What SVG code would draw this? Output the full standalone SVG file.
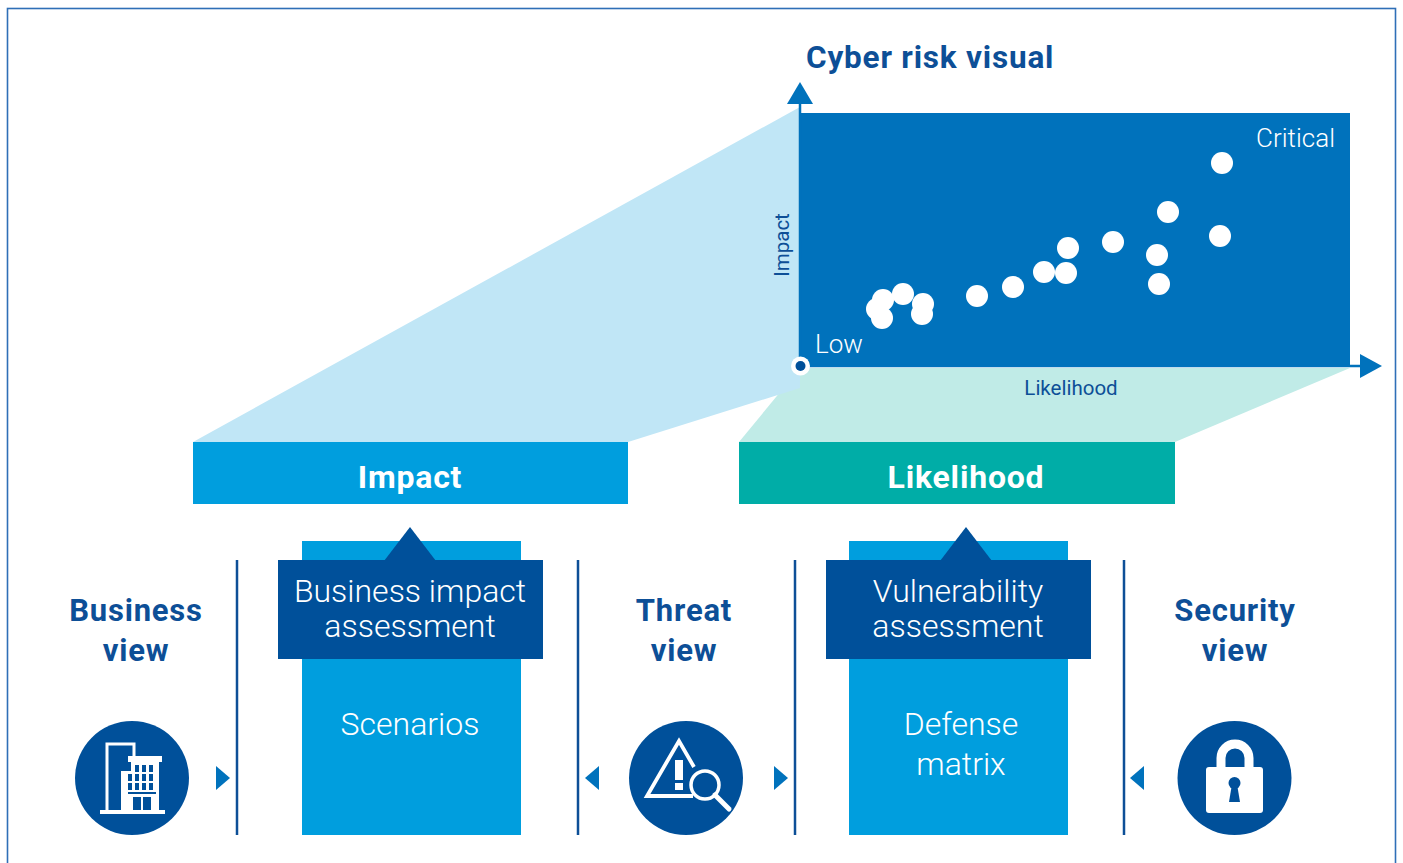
<svg xmlns="http://www.w3.org/2000/svg" width="1403" height="863" viewBox="0 0 1403 863">
<style>
.ttl{font-family:Roboto,"Liberation Sans",sans-serif;font-weight:700;fill:#0d4f97;letter-spacing:0.8px}
.lt{font-family:Roboto,"Liberation Sans",sans-serif;font-weight:300;fill:#ffffff}
.ax{font-family:Roboto,"Liberation Sans",sans-serif;font-weight:400;fill:#0d4f97;font-size:20.5px}
.bx{font-family:Roboto,"Liberation Sans",sans-serif;font-weight:700;fill:#ffffff;font-size:32px;letter-spacing:0.8px}
.dot{fill:#ffffff}
.sep{stroke:#0d4f97;stroke-width:2.5}
.tri{fill:#0072bc}
.ic{fill:#00509a}
</style>
<rect x="7.5" y="8.5" width="1388" height="870" fill="#ffffff" stroke="#2f6fb7" stroke-width="1.6"/>

<g id="projection">
<polygon points="739,442 800,368 1350,368 1175,442" fill="#c0ebe7"/>
<polygon points="193,442 800,107 800,388 628,442" fill="#c0e6f6"/>
</g>

<g id="chart">
<rect x="800" y="113" width="550" height="253" fill="#0072bc"/>
<text x="1335" y="147" class="lt" font-size="26" text-anchor="end">Critical</text>
<text x="815" y="353" class="lt" font-size="26">Low</text>
<g id="dots">
<circle class="dot" cx="1222" cy="163" r="11"/>
<circle class="dot" cx="1168" cy="212" r="11"/>
<circle class="dot" cx="1220" cy="236" r="11"/>
<circle class="dot" cx="1113" cy="242" r="11"/>
<circle class="dot" cx="1068" cy="248" r="11"/>
<circle class="dot" cx="1157" cy="255" r="11"/>
<circle class="dot" cx="1044" cy="272" r="11"/>
<circle class="dot" cx="1066" cy="273" r="11"/>
<circle class="dot" cx="1159" cy="284" r="11"/>
<circle class="dot" cx="1013" cy="287" r="11"/>
<circle class="dot" cx="977" cy="296" r="11"/>
<circle class="dot" cx="903" cy="294" r="11"/>
<circle class="dot" cx="883" cy="300" r="11"/>
<circle class="dot" cx="877" cy="309" r="11"/>
<circle class="dot" cx="882" cy="318" r="11"/>
<circle class="dot" cx="923" cy="304" r="11"/>
<circle class="dot" cx="922" cy="314" r="11"/>
</g>
<text x="806" y="68" class="ttl" font-size="31.5">Cyber risk visual</text>
<text transform="translate(789,245) rotate(-90)" class="ax" text-anchor="middle">Impact</text>
<text x="1071" y="395" class="ax" text-anchor="middle">Likelihood</text>
</g>

<g id="connectors">
<g id="axes">
<line x1="800" y1="366" x2="800" y2="103" stroke="#0072bc" stroke-width="2.5"/>
<polygon points="800,82 787,104 813,104" fill="#0072bc"/>
<line x1="800" y1="366" x2="1362" y2="366" stroke="#0072bc" stroke-width="2.5"/>
<polygon points="1382,366 1360,354 1360,378" fill="#0072bc"/>
<circle cx="800.5" cy="366" r="9.5" fill="#ffffff"/>
<circle cx="800.5" cy="366" r="5" fill="#00509a"/>
</g>
<polygon class="tri" points="216,766 230,778 216,790"/>
<polygon class="tri" points="599,766 585,778 599,790"/>
<polygon class="tri" points="774,766 788,778 774,790"/>
<polygon class="tri" points="1144,766 1130,778 1144,790"/>
</g>

<g id="impact-box">
<rect x="193" y="442" width="435" height="62" fill="#009ede"/>
<text x="410" y="488" class="bx" text-anchor="middle">Impact</text>
</g>
<g id="likelihood-box">
<rect x="739" y="442" width="436" height="62" fill="#00ada7"/>
<text x="966" y="488" class="bx" text-anchor="middle">Likelihood</text>
</g>

<g id="separators">
<line class="sep" x1="237" y1="560" x2="237" y2="835"/>
<line class="sep" x1="578" y1="560" x2="578" y2="835"/>
<line class="sep" x1="795" y1="560" x2="795" y2="835"/>
<line class="sep" x1="1124" y1="560" x2="1124" y2="835"/>
</g>

<g id="business-view">
<text x="136" y="621" class="ttl" font-size="31" text-anchor="middle">Business</text>
<text x="136" y="661" class="ttl" font-size="31" text-anchor="middle">view</text>
<circle class="ic" cx="132" cy="778" r="57"/>
<g fill="#ffffff">
<path d="M105.5,742.5 h30 v15 h-3 v-12 h-24 v66 h-3 z"/>
<rect x="128" y="756" width="34" height="6"/>
<rect x="131" y="761" width="28" height="51"/>
<rect x="121" y="771" width="11" height="41"/>
<rect x="100" y="810" width="65" height="4"/>
</g>
<g fill="#00509a">
<rect x="135" y="765" width="4" height="7"/><rect x="142" y="765" width="4" height="7"/><rect x="149" y="765" width="4" height="7"/>
<rect x="128" y="774" width="4" height="7"/><rect x="135" y="774" width="4" height="7"/><rect x="142" y="774" width="4" height="7"/><rect x="149" y="774" width="4" height="7"/>
<rect x="128" y="783" width="4" height="7"/><rect x="135" y="783" width="4" height="7"/><rect x="142" y="783" width="4" height="7"/><rect x="149" y="783" width="4" height="7"/>
<rect x="128" y="792" width="28" height="2"/>
<rect x="133" y="797" width="8" height="13"/><rect x="143" y="797" width="8" height="13"/>
</g>
</g>

<g id="scenarios">
<rect x="302" y="541" width="219" height="294" fill="#009ede"/>
<rect x="278" y="560" width="265" height="99" fill="#00509a"/>
<polygon points="410,527 384,561 436,561" fill="#00509a"/>
<text x="410" y="602" class="lt" font-size="32" text-anchor="middle">Business impact</text>
<text x="410" y="637" class="lt" font-size="32" text-anchor="middle">assessment</text>
<text x="410" y="735" class="lt" font-size="32" text-anchor="middle">Scenarios</text>
</g>

<g id="threat-view">
<text x="684" y="621" class="ttl" font-size="31" text-anchor="middle">Threat</text>
<text x="684" y="661" class="ttl" font-size="31" text-anchor="middle">view</text>
<circle class="ic" cx="686" cy="778" r="57"/>
<path d="M693,796 H647 L679,741 L694,767" fill="none" stroke="#ffffff" stroke-width="3.8" stroke-linejoin="miter"/>
<rect x="675" y="760" width="8" height="20" fill="#ffffff"/>
<rect x="675" y="783" width="8" height="7" fill="#ffffff"/>
<circle cx="705" cy="785" r="14" fill="#00509a" stroke="#ffffff" stroke-width="3.5"/>
<line x1="715" y1="795" x2="729" y2="809" stroke="#ffffff" stroke-width="5" stroke-linecap="round"/>
</g>

<g id="defense-matrix">
<rect x="849" y="541" width="219" height="294" fill="#009ede"/>
<rect x="826" y="560" width="265" height="99" fill="#00509a"/>
<polygon points="966,527 940,561 992,561" fill="#00509a"/>
<text x="958" y="602" class="lt" font-size="32" text-anchor="middle">Vulnerability</text>
<text x="958" y="637" class="lt" font-size="32" text-anchor="middle">assessment</text>
<text x="961" y="735" class="lt" font-size="32" text-anchor="middle">Defense</text>
<text x="961" y="775" class="lt" font-size="32" text-anchor="middle">matrix</text>
</g>

<g id="security-view">
<text x="1235" y="621" class="ttl" font-size="31" text-anchor="middle">Security</text>
<text x="1235" y="661" class="ttl" font-size="31" text-anchor="middle">view</text>
<circle class="ic" cx="1234.5" cy="778" r="57"/>
<path d="M1221,768 V758 A14,14 0 0 1 1249,758 V768" fill="none" stroke="#ffffff" stroke-width="9"/>
<rect x="1206" y="767" width="57" height="46" rx="3" fill="#ffffff"/>
<circle cx="1234.5" cy="783" r="6" fill="#00509a"/>
<polygon points="1232,784 1237,784 1240,802 1229,802" fill="#00509a"/>
</g>
</svg>
